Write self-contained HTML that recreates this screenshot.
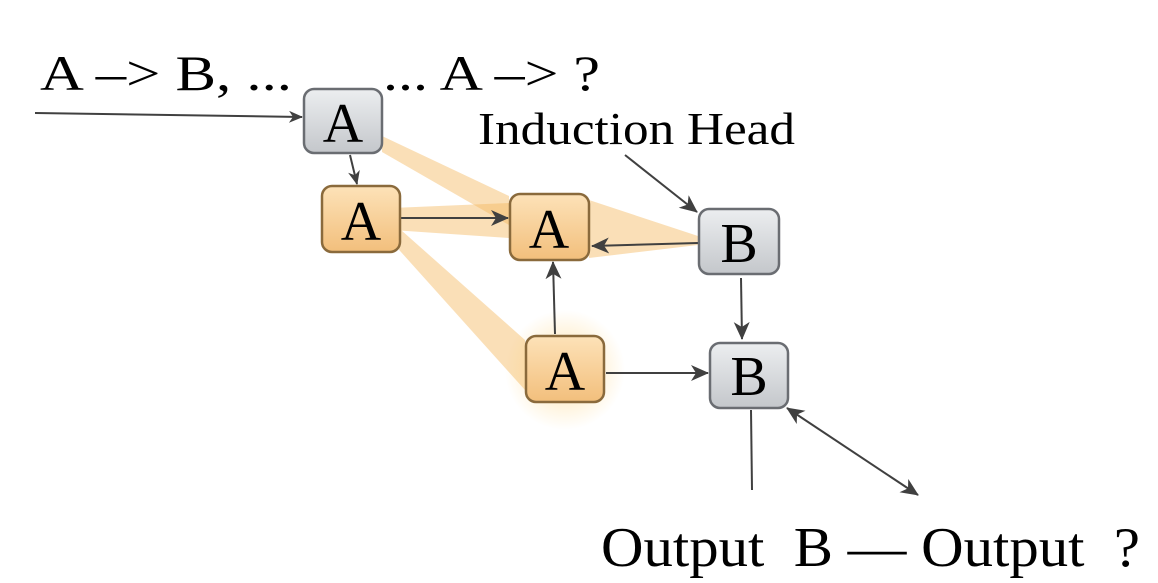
<!DOCTYPE html>
<html><head><meta charset="utf-8"><style>
html,body{margin:0;padding:0;background:#fff;}
svg{display:block;}
text{font-family:"Liberation Serif",serif;fill:#000;}
</style></head><body>
<svg width="1158" height="583" viewBox="0 0 1158 583" xmlns="http://www.w3.org/2000/svg">
<defs>
<marker id="ar" markerWidth="14" markerHeight="12" refX="13" refY="6" orient="auto" markerUnits="userSpaceOnUse">
<path d="M0,0 L14,6 L0,12 L4,6 z" fill="#404040"/></marker>
<marker id="ar2" markerWidth="18" markerHeight="16" refX="17" refY="8" orient="auto-start-reverse" markerUnits="userSpaceOnUse">
<path d="M0,0 L18,8 L0,16 L5,8 z" fill="#404040"/></marker>
<linearGradient id="gg" x1="0" y1="0" x2="0" y2="1"><stop offset="0" stop-color="#eceef0"/><stop offset="1" stop-color="#c4c7cb"/></linearGradient>
<linearGradient id="og" x1="0" y1="0" x2="0" y2="1"><stop offset="0" stop-color="#fde2b8"/><stop offset="1" stop-color="#f2bf7c"/></linearGradient>
<radialGradient id="glow"><stop offset="0" stop-color="#ffcc66" stop-opacity="0.55"/><stop offset="1" stop-color="#ffcc66" stop-opacity="0"/></radialGradient>
</defs>
<g fill="#f4b860" fill-opacity="0.45">
<polygon points="382,136 382,152 509,225 509,196"/>
<polygon points="392,208 392,230 509,238 509,203"/>
<polygon points="392,222 392,242 525,390 525,340"/>
<polygon points="589,200 589,258 698,245 698,236"/>
</g>
<circle cx="565" cy="370" r="60" fill="url(#glow)"/>
<circle cx="383" cy="218" r="16" fill="url(#glow)"/>
<g stroke="#404040" stroke-width="2" fill="none">
<line x1="35" y1="113" x2="302" y2="117" marker-end="url(#ar)"/>
<line x1="350" y1="155" x2="357" y2="184" marker-end="url(#ar)"/>
<line x1="400" y1="218" x2="508" y2="218" marker-end="url(#ar2)"/>
<line x1="698" y1="243" x2="592" y2="246" marker-end="url(#ar2)"/>
<line x1="555" y1="334" x2="553" y2="262" marker-end="url(#ar2)"/>
<line x1="606" y1="373" x2="708" y2="373" marker-end="url(#ar2)"/>
<line x1="741" y1="278" x2="742" y2="339" marker-end="url(#ar2)"/>
<line x1="625" y1="155" x2="697" y2="212" marker-end="url(#ar2)"/>
<line x1="751" y1="410" x2="752" y2="490"/>
<line x1="787" y1="408" x2="918" y2="495" marker-start="url(#ar2)" marker-end="url(#ar2)"/>
</g>
<g stroke-width="2.5">
<rect x="304" y="89" width="78" height="64" rx="10" fill="url(#gg)" stroke="#6a6d72"/>
<rect x="322" y="186" width="78" height="66" rx="10" fill="url(#og)" stroke="#8a6a3c"/>
<rect x="510" y="194" width="79" height="66" rx="10" fill="url(#og)" stroke="#8a6a3c"/>
<rect x="699" y="209" width="80" height="65" rx="10" fill="url(#gg)" stroke="#6a6d72"/>
<rect x="526" y="336" width="78" height="66" rx="10" fill="url(#og)" stroke="#8a6a3c"/>
<rect x="710" y="343" width="78" height="65" rx="10" fill="url(#gg)" stroke="#6a6d72"/>
</g>
<g font-size="56" text-anchor="middle">
<text x="343" y="142">A</text>
<text x="361" y="240">A</text>
<text x="549" y="248">A</text>
<text x="739" y="262">B</text>
<text x="565" y="390">A</text>
<text x="749" y="395">B</text>
</g>
<text x="40" y="90" font-size="50" textLength="252" lengthAdjust="spacingAndGlyphs">A –&gt; B, ...</text>
<text x="383" y="90" font-size="50" textLength="217" lengthAdjust="spacingAndGlyphs">... A –&gt; ?</text>
<text x="478" y="144" font-size="46" textLength="317" lengthAdjust="spacingAndGlyphs">Induction Head</text>
<text x="601" y="566" font-size="56" xml:space="preserve" textLength="539" lengthAdjust="spacingAndGlyphs">Output  B — Output  ?</text>
</svg>
</body></html>
